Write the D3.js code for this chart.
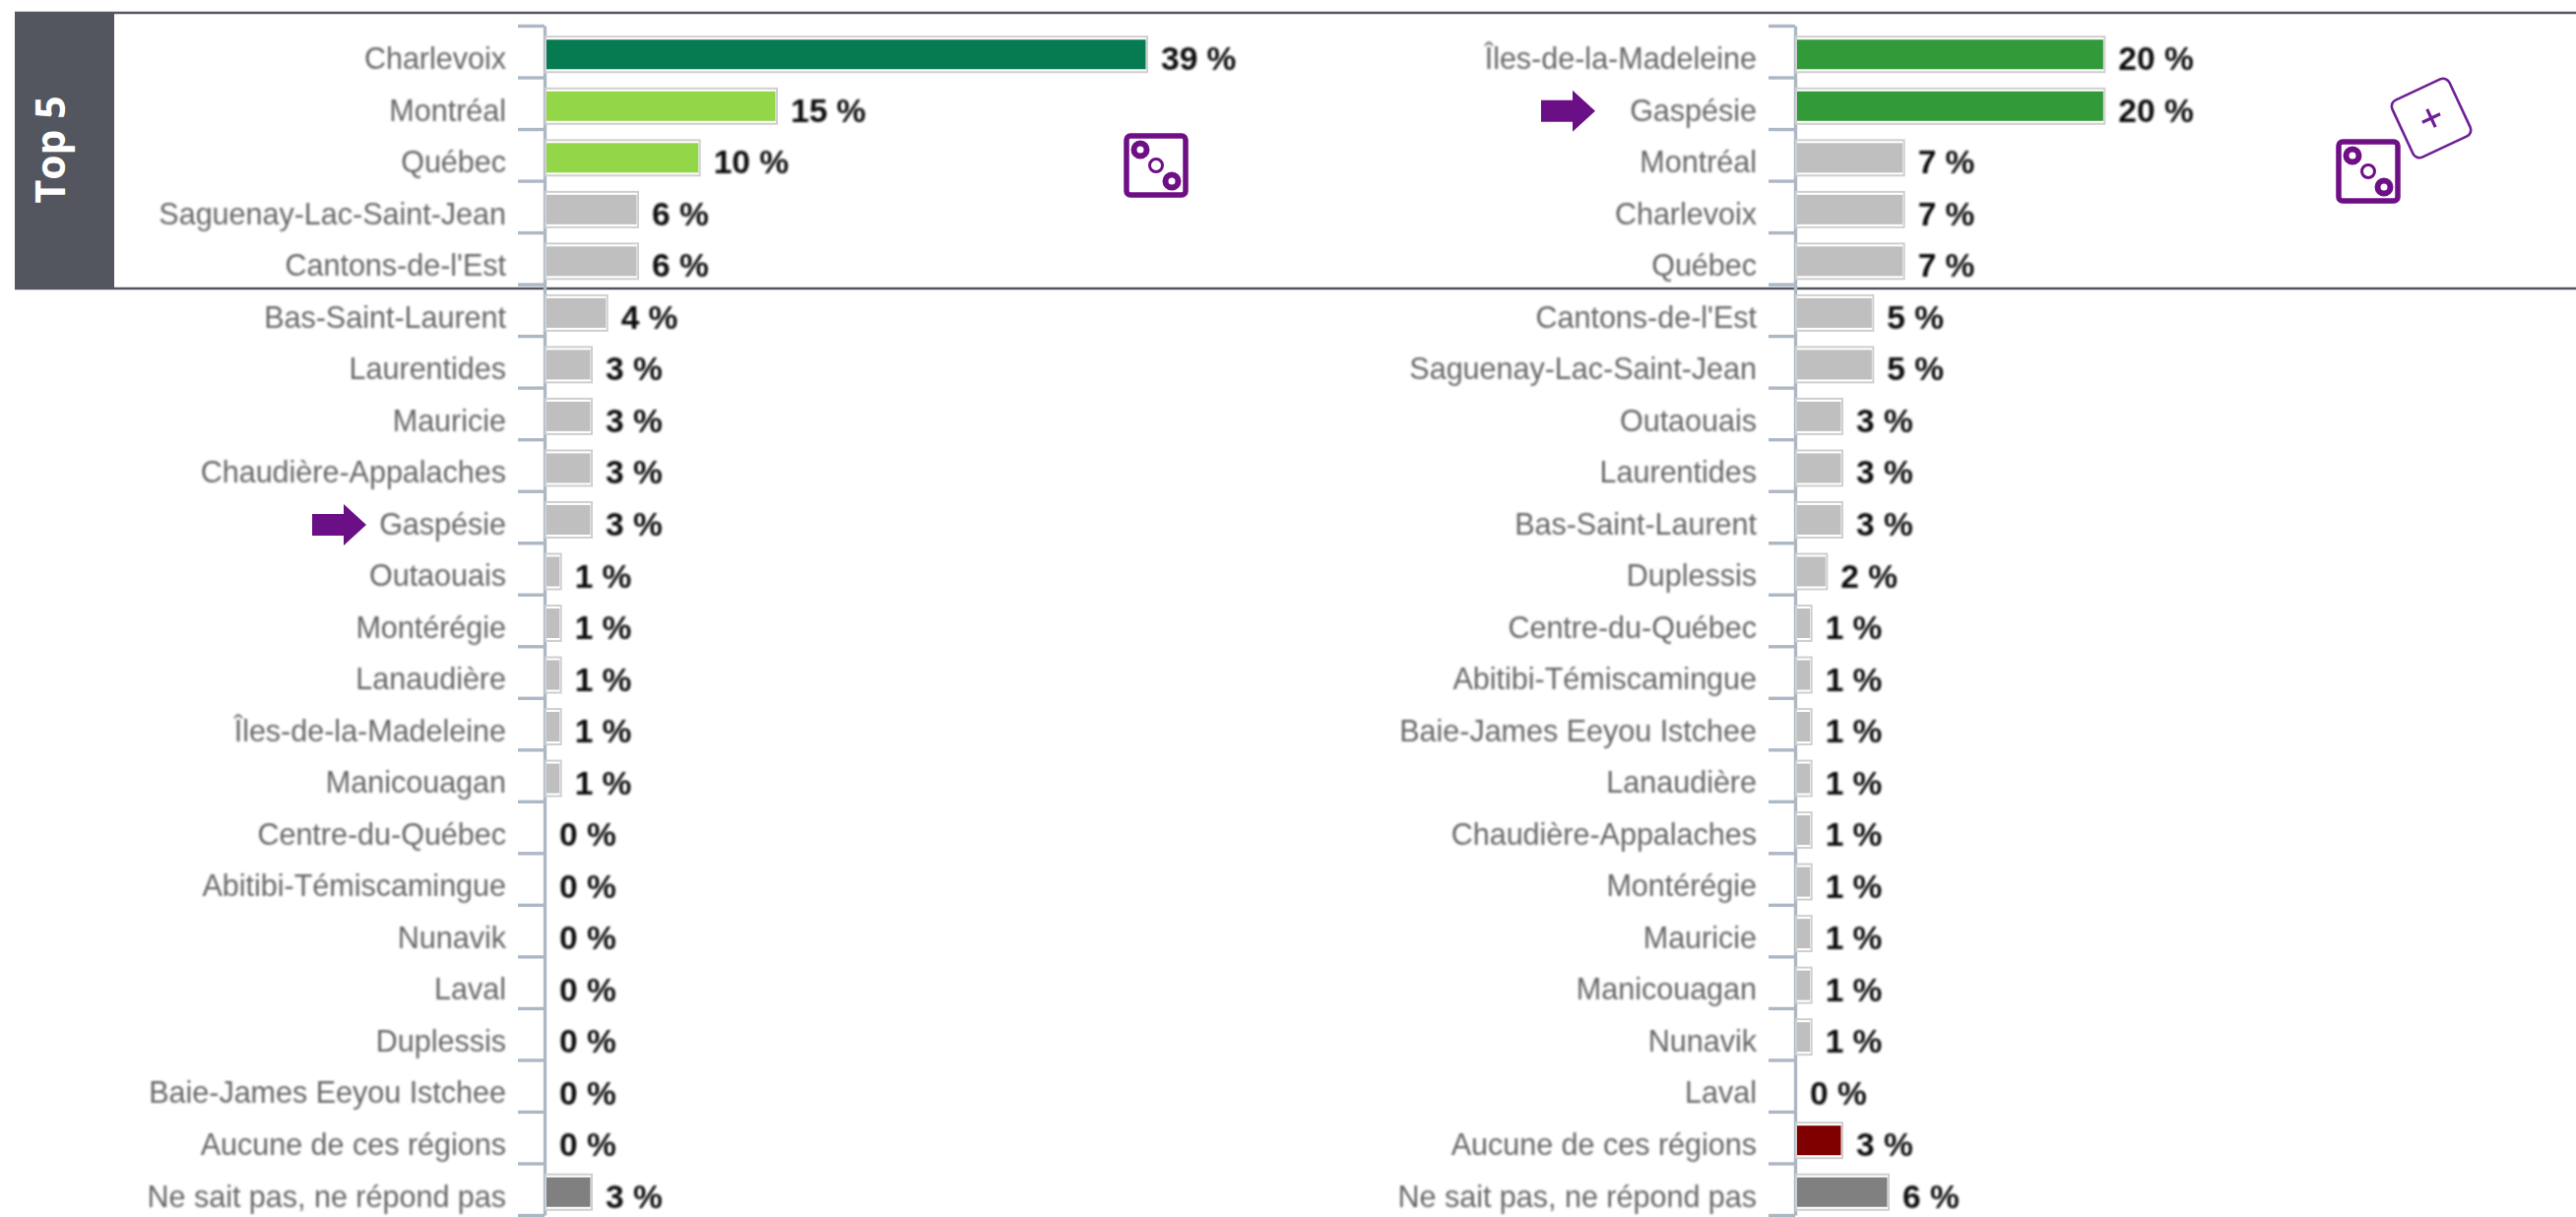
<!DOCTYPE html>
<html><head><meta charset="utf-8">
<script src="https://cdn.jsdelivr.net/npm/d3@7/dist/d3.min.js"></script>
<style>html,body{margin:0;padding:0;background:#fff}svg{display:block}</style>
</head><body><div id="chart"></div>
<script>
const leftRegions = ["Charlevoix","Montréal","Québec","Saguenay-Lac-Saint-Jean","Cantons-de-l'Est","Bas-Saint-Laurent","Laurentides","Mauricie","Chaudière-Appalaches","Gaspésie","Outaouais","Montérégie","Lanaudière","Îles-de-la-Madeleine","Manicouagan","Centre-du-Québec","Abitibi-Témiscamingue","Nunavik","Laval","Duplessis","Baie-James Eeyou Istchee","Aucune de ces régions","Ne sait pas, ne répond pas"];
const leftValues = [39,15,10,6,6,4,3,3,3,3,1,1,1,1,1,0,0,0,0,0,0,0,3];
const leftTiers = ["dark","light","light","base","base","base","base","base","base","base","base","base","base","base","base","base","base","base","base","base","base","none","dk"];
const rightRegions = ["Îles-de-la-Madeleine","Gaspésie","Montréal","Charlevoix","Québec","Cantons-de-l'Est","Saguenay-Lac-Saint-Jean","Outaouais","Laurentides","Bas-Saint-Laurent","Duplessis","Centre-du-Québec","Abitibi-Témiscamingue","Baie-James Eeyou Istchee","Lanaudière","Chaudière-Appalaches","Montérégie","Mauricie","Manicouagan","Nunavik","Laval","Aucune de ces régions","Ne sait pas, ne répond pas"];
const rightValues = [20,20,7,7,7,5,5,3,3,3,2,1,1,1,1,1,1,1,1,1,0,3,6];
const rightTiers = ["mid","mid","base","base","base","base","base","base","base","base","base","base","base","base","base","base","base","base","base","base","base","red","dk"];
const bandLabel = "Top 5";
const highlighted = "Gaspésie";

const W=2616,H=1236, plotTop=26, plotBottom=1234, inkOffset=8, barOffset=3;
const tierColor=d3.scaleOrdinal().domain(["dark","light","mid","base","none","red","dk"])
  .range(["#067a50","#93d647","#329a38","#bfbfbf","#bfbfbf","#800000","#808080"]);
const svg=d3.select("#chart").append("svg").attr("width",W).attr("height",H);
const font="'Liberation Sans',Arial,sans-serif";
svg.append("defs").append("filter").attr("id","soft").attr("x","-5%").attr("y","-5%").attr("width","110%").attr("height","110%")
   .append("feGaussianBlur").attr("stdDeviation",1);

// Top-5 frame
svg.append("rect").attr("x",15).attr("y",13).attr("width",101).attr("height",280).attr("fill","#53565e");
svg.selectAll("line.frame").data([13,293]).join("line").attr("class","frame")
  .attr("x1",15).attr("x2",W).attr("y1",d=>d).attr("y2",d=>d).attr("stroke","#53565e").attr("stroke-width",2.5);
svg.append("text").attr("transform","translate(66,152) rotate(-90)").attr("text-anchor","middle")
  .attr("font-family","'Open Sans',sans-serif").attr("font-weight",700).attr("font-size",41).attr("fill","#fff").text(bandLabel);

function panel(regions,values,tiers,x0,arrowX){
  const g=svg.append("g").attr("transform",`translate(${x0},0)`);
  const y=d3.scaleBand().domain(regions).range([plotTop,plotBottom]);
  const x=d3.scaleLinear().domain([0,39]).range([0,611]);
  const rows=regions.map((r,i)=>({r,v:values[i],t:tiers[i]}));
  // ticks + domain line
  const tickScale=d3.scaleLinear().domain([0,regions.length]).range([plotTop,plotBottom]);
  const ag=g.append("g").call(d3.axisLeft(tickScale).tickValues(d3.range(regions.length+1)).tickSize(27).tickFormat("").tickSizeOuter(0));
  ag.selectAll("line,path").attr("stroke","#adb8c5").attr("stroke-width",3.4);
  // labels
  const lg=g.append("g").attr("filter","url(#soft)").call(d3.axisLeft(y).tickSize(0).tickPadding(39));
  lg.select(".domain").remove();
  lg.selectAll("text").attr("font-family",font).attr("font-size",30.5).attr("fill","#666").attr("dy","0.32em")
    .attr("transform",`translate(0,${inkOffset})`);
  // bars
  const bars=g.append("g").selectAll("g").data(rows.filter(d=>d.v>0)).join("g")
    .attr("transform",d=>`translate(0,${y(d.r)+y.bandwidth()/2+barOffset-18})`);
  bars.append("rect").attr("x",1).attr("y",0).attr("height",36).attr("width",d=>x(d.v)).attr("fill","#fff").attr("stroke","#cfcfcf").attr("stroke-width",2);
  bars.append("rect").attr("x",2).attr("y",3).attr("height",30).attr("width",d=>Math.max(4,x(d.v)-2.5)).attr("fill",d=>tierColor(d.t));
  // values
  g.append("g").attr("filter","url(#soft)").selectAll("text").data(rows).join("text")
    .attr("x",d=>x(d.v)+(d.v>0?15:15)).attr("y",d=>y(d.r)+y.bandwidth()/2+7).attr("dy","0.36em")
    .attr("font-family",font).attr("font-weight",700).attr("font-size",33.5).attr("fill","#111").text(d=>d.v+" %");
  // arrow
  const cy=y(highlighted)+y.bandwidth()/2+8;
  g.append("path").attr("transform",`translate(${arrowX},${cy})`).attr("d",d3.line()([[0,-11],[32,-11],[32,-21],[55,0],[32,21],[32,11],[0,11]])+"Z").attr("fill","#6a0f85");
}
panel(leftRegions,leftValues,leftTiers,553,-236);
panel(rightRegions,rightValues,rightTiers,1823,-258);

function die(cx,cy){
  const g=svg.append("g").attr("transform",`translate(${cx},${cy})`).attr("fill","none").attr("stroke","#6f0f85");
  g.append("rect").attr("x",-30).attr("y",-30).attr("width",60).attr("height",60).attr("rx",4).attr("stroke-width",5.5);
  g.append("circle").attr("cx",-16).attr("cy",-16).attr("r",6.5).attr("stroke-width",6);
  g.append("circle").attr("r",6.5).attr("stroke-width",3);
  g.append("circle").attr("cx",16).attr("cy",16).attr("r",6.5).attr("stroke-width",6);
}
die(1174,168); die(2405,174);
const plus=svg.append("g").attr("transform","translate(2469,120) rotate(-25)").attr("fill","none").attr("stroke","#6f1f95").attr("stroke-width",2.6);
plus.append("rect").attr("x",-32).attr("y",-32).attr("width",64).attr("height",64).attr("rx",7);
plus.append("path").attr("d","M-10,0H10M0,-10V10").attr("stroke-width",3.2);
</script></body></html>
